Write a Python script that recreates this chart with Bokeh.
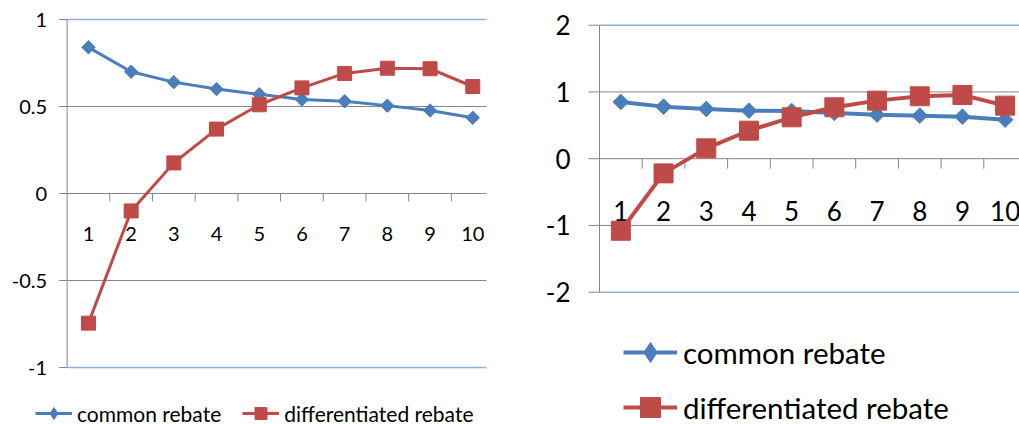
import math

from bokeh.core.properties import value
from bokeh.embed import file_html
from bokeh.models import Legend, LegendItem, Range1d
from bokeh.plotting import figure
from bokeh.resources import INLINE

# ---- data -------------------------------------------------------------
periods = [1, 2, 3, 4, 5, 6, 7, 8, 9, 10]
period_labels = [str(v) for v in periods]

left_common = [0.84, 0.70, 0.64, 0.60, 0.57, 0.54, 0.53, 0.505, 0.477, 0.435]
left_differentiated = [-0.745, -0.10, 0.176, 0.37, 0.51, 0.607, 0.69, 0.72, 0.717, 0.615]
left_yticks = [-1, -0.5, 0, 0.5, 1]
left_ytick_labels = ["-1", "-0.5", "0", "0.5", "1"]

right_common = [0.85, 0.78, 0.745, 0.72, 0.715, 0.685, 0.66, 0.645, 0.63, 0.585]
right_differentiated = [-1.08, -0.22, 0.155, 0.42, 0.62, 0.77, 0.87, 0.935, 0.955, 0.795]
right_yticks = [-2, -1, 0, 1, 2]
right_ytick_labels = ["-2", "-1", "0", "1", "2"]

series_names = ["common rebate", "differentiated rebate"]

# ---- style ------------------------------------------------------------
W, H = 1019, 424
BLUE = "#4A7EBB"
RED = "#BE4B48"
GRID = "#868686"
EDGE = "#8EB0DC"
FONT = "Lato"
CAT_PX = 42.7          # width of one category band in pixels


def ranges_for(frame, ymin, ymax):
    """Ranges spanning the whole canvas so that the plot area given in
    pixels (left, top, right, bottom) shows categories 1..10 and ymin..ymax."""
    left, top, right, bottom = frame
    x_at = lambda px: 0.5 + (px - left) / CAT_PX
    ppu = (bottom - top) / (ymax - ymin)
    y_at = lambda py: ymin + (bottom - py) / ppu
    return (Range1d(x_at(0), x_at(W)), Range1d(y_at(H), y_at(0)),
            x_at(right))


p = figure(width=W, height=H, output_backend="svg", toolbar_location=None,
           x_axis_location=None, y_axis_location=None,
           min_border=0, outline_line_color=None)
p.grid.visible = False
p.background_fill_color = "white"
p.border_fill_color = "white"

lx, ly, lx_end = ranges_for((66.6, 19, 486, 367), -1, 1)
rx, ry, rx_end = ranges_for((599, 24.7, 1019, 291.7), -2, 2)
p.x_range = lx
p.y_range = ly
p.extra_x_ranges = {"rx": rx}
p.extra_y_ranges = {"ry": ry}


def draw_chart(common, differentiated, yticks, ytick_labels, x_end, rn,
               font_px, label_offset, cat_tick, tick_out, standoff,
               line_w, diamond, square):
    kw = dict(x_range_name=rn[0], y_range_name=rn[1]) if rn else {}
    inner = yticks[1:-1]
    edges = [yticks[0], yticks[-1]]
    n_in, n_ed = len(inner), len(edges)

    # horizontal gridlines (grey) and the plot area's top/bottom (blue)
    p.segment(x0=[0.5] * n_in, y0=inner, x1=[x_end] * n_in, y1=inner,
              line_color=GRID, line_width=1, **kw)
    p.segment(x0=[0.5] * n_ed, y0=edges, x1=[x_end] * n_ed, y1=edges,
              line_color=EDGE, line_width=1.5, **kw)

    # value axis: line, outward ticks, labels
    p.segment(x0=[0.5], y0=[yticks[0]], x1=[0.5], y1=[yticks[-1]],
              line_color=GRID, line_width=1, **kw)
    p.ray(x=[0.5] * len(yticks), y=yticks, length=tick_out,
          length_units="screen", angle=math.pi, line_color=GRID,
          line_width=1, **kw)
    p.text(x=[0.5] * len(yticks), y=yticks, text=ytick_labels,
           x_offset=-(tick_out + standoff), text_align="right",
           text_baseline="middle", text_font=value(FONT),
           text_font_size=f"{font_px}px", text_color="black", **kw)

    # category axis along y = 0
    bounds = [v + 0.5 for v in periods[:-1]]
    p.ray(x=bounds, y=[0] * len(bounds), length=cat_tick,
          length_units="screen", angle=-math.pi / 2,
          line_color=GRID, line_width=1, **kw)
    p.text(x=periods, y=[0] * len(periods), text=period_labels,
           y_offset=label_offset, text_align="center",
           text_baseline="middle", text_font=value(FONT),
           text_font_size=f"{font_px}px", text_color="black", **kw)

    # series
    p.line(periods, common, line_color=BLUE, line_width=line_w, **kw)
    p.scatter(periods, common, marker="square", angle=math.pi / 4,
              size=diamond, fill_color=BLUE, line_color=BLUE, **kw)
    p.line(periods, differentiated, line_color=RED, line_width=line_w, **kw)
    p.scatter(periods, differentiated, marker="square", size=square,
              fill_color=RED, line_color=RED, **kw)


def add_legend(line_w, location, **opts):
    # legend-only swatches: upright diamond and square with a line through
    nan = [math.nan]
    b_line = p.line(nan, nan, line_color=BLUE, line_width=line_w)
    b_mark = p.scatter(nan, nan, marker="diamond", fill_color=BLUE,
                       line_color=BLUE)
    r_line = p.line(nan, nan, line_color=RED, line_width=line_w)
    r_mark = p.scatter(nan, nan, marker="square", fill_color=RED,
                       line_color=RED)
    legend = Legend(items=[
        LegendItem(label=series_names[0], renderers=[b_line, b_mark]),
        LegendItem(label=series_names[1], renderers=[r_line, r_mark]),
    ], location=location, padding=0, margin=0, border_line_color=None,
        background_fill_alpha=0, label_text_font=FONT,
        label_text_color="black", **opts)
    p.add_layout(legend, "center")


draw_chart(left_common, left_differentiated, left_yticks, left_ytick_labels,
           lx_end, None, font_px=20, label_offset=40, cat_tick=8,
           tick_out=8, standoff=12, line_w=3, diamond=9.5, square=14)
draw_chart(right_common, right_differentiated, right_yticks,
           right_ytick_labels, rx_end, ("rx", "ry"), font_px=26,
           label_offset=52, cat_tick=10, tick_out=11, standoff=18,
           line_w=4, diamond=11, square=19)

add_legend(3, (35, -4), orientation="horizontal", glyph_width=37,
           glyph_height=30, label_standoff=5, spacing=21,
           label_text_font_size="21px")
add_legend(4, (623, -8), orientation="vertical", glyph_width=54,
           glyph_height=50, label_standoff=6, spacing=5,
           label_text_font_size="29.5px")

open("out.html", "w").write(file_html(p, INLINE))
